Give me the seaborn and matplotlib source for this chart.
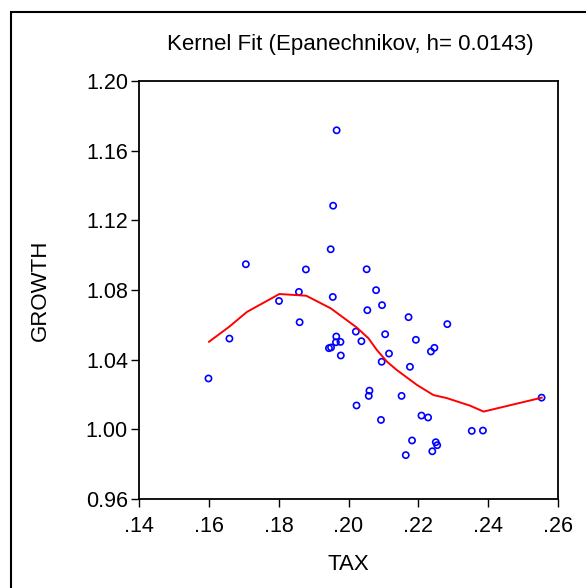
import matplotlib
matplotlib.use("Agg")
import matplotlib.pyplot as plt
import seaborn as sns
import pandas as pd
from matplotlib.patches import Rectangle

tax = [0.1966, 0.1956, 0.1949, 0.1706, 0.1878, 0.1858, 0.1955, 0.1801, 0.1860, 0.2021,
       0.1659, 0.1965, 0.1964, 0.1977, 0.1944, 0.1950, 0.1978, 0.1599, 0.2023, 0.2052,
       0.2079, 0.2096, 0.2054, 0.2172, 0.2283, 0.2105, 0.2193, 0.2037, 0.2246, 0.2236,
       0.2116, 0.2095, 0.2176, 0.2060, 0.2058, 0.2152, 0.2209, 0.2228, 0.2093, 0.2353,
       0.2385, 0.2182, 0.2250, 0.2254, 0.2240, 0.2164, 0.2553]
growth = [1.1717, 1.1284, 1.1034, 1.0948, 1.0918, 1.0789, 1.0760, 1.0737, 1.0615, 1.0561,
          1.0521, 1.0533, 1.0500, 1.0502, 1.0466, 1.0470, 1.0424, 1.0292, 1.0137, 1.0919,
          1.0799, 1.0713, 1.0684, 1.0644, 1.0604, 1.0546, 1.0514, 1.0506, 1.0468, 1.0447,
          1.0435, 1.0388, 1.0359, 1.0222, 1.0192, 1.0192, 1.0079, 1.0068, 1.0054, 0.9991,
          0.9993, 0.9936, 0.9926, 0.9909, 0.9874, 0.9852, 1.0182]

fit_x = [0.1600, 0.1659, 0.1709, 0.1802, 0.1879, 0.1949, 0.2024, 0.2057, 0.2081, 0.2110,
         0.2138, 0.2196, 0.2243, 0.2282, 0.2348, 0.2387, 0.2554]
fit_y = [1.0502, 1.0590, 1.0674, 1.0777, 1.0767, 1.0695, 1.0584, 1.0523, 1.0456, 1.0389,
         1.0341, 1.0255, 1.0197, 1.0179, 1.0136, 1.0102, 1.0182]

x_ticks = [0.14, 0.16, 0.18, 0.20, 0.22, 0.24, 0.26]
x_labels = [".14", ".16", ".18", ".20", ".22", ".24", ".26"]
y_ticks = [0.96, 1.00, 1.04, 1.08, 1.12, 1.16, 1.20]
y_labels = ["0.96", "1.00", "1.04", "1.08", "1.12", "1.16", "1.20"]

sns.set_style("white")
plt.rcParams['font.family'] = ['Liberation Sans', 'DejaVu Sans']
plt.rcParams['text.color'] = 'black'
plt.rcParams['axes.labelcolor'] = 'black'
plt.rcParams['xtick.color'] = 'black'
plt.rcParams['ytick.color'] = 'black'

fig = plt.figure(figsize=(5.86, 5.88), dpi=100)
ax = fig.add_axes([139/586, 89/588, 419/586, 418/588])

pts = pd.DataFrame({"TAX": tax, "GROWTH": growth})
fit = pd.DataFrame({"TAX": fit_x, "GROWTH": fit_y})

sns.lineplot(data=fit, x="TAX", y="GROWTH", sort=False, color="#ff0000", lw=1.4, ax=ax)
sns.scatterplot(data=pts, x="TAX", y="GROWTH", marker="o", s=20, facecolor="none",
                edgecolor="#0000ff", linewidth=1.2, ax=ax)

ax.set_xlim(0.14, 0.26)
ax.set_ylim(0.96, 1.20)
ax.set_xticks(x_ticks)
ax.set_xticklabels(x_labels)
ax.set_yticks(y_ticks)
ax.set_yticklabels(y_labels)
ax.tick_params(axis='both', which='both', direction='out', length=6, width=1,
               color='black', labelcolor='black', labelsize=15.5, pad=2,
               left=True, bottom=True)
ax.tick_params(axis='x', pad=6)
for sp in ax.spines.values():
    sp.set_visible(True)
    sp.set_color('black')
    sp.set_linewidth(1.3)
ax.set_xlabel("TAX", fontsize=16, va='center')
ax.xaxis.set_label_coords(0.5, (23 - 89) / 418)
ax.set_ylabel("GROWTH", fontsize=16, va='center')
ax.yaxis.set_label_coords((40 - 139) / 419, 0.5)

fig.text(350/586, 1 - 50/588, "Kernel Fit (Epanechnikov, h= 0.0143)", fontsize=16,
         ha='center', va='baseline')

fig.patches.append(Rectangle((11/586, -0.1), 1.2, 1 - 12/588 + 0.1, transform=fig.transFigure,
                             fill=False, edgecolor='black', linewidth=1.5))

fig.savefig("out.png", dpi=100)
